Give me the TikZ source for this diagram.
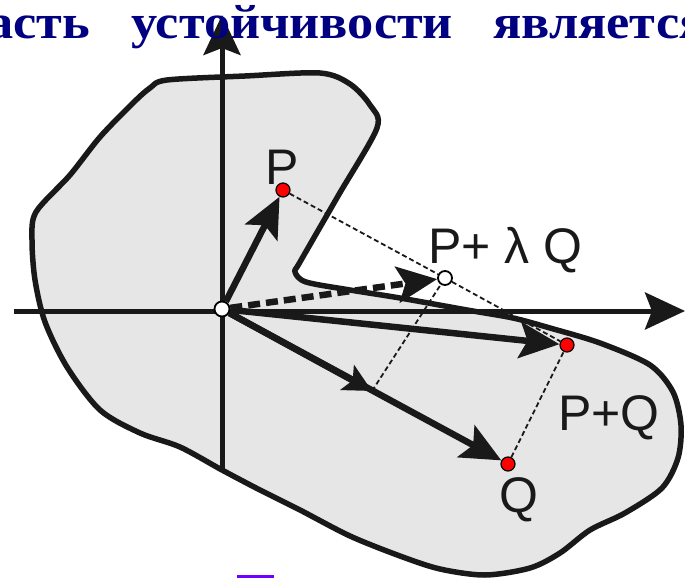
\documentclass[tikz,border=0pt]{standalone}
\usepackage{fontspec}
\usepackage{graphicx}
\setmainfont{Liberation Serif}
\newfontfamily\labelfont{Liberation Sans}
\usetikzlibrary{arrows.meta}
\definecolor{shapegray}{RGB}{230,230,230}
\definecolor{titleblue}{RGB}{0,0,128}
\definecolor{barviolet}{RGB}{110,0,255}
\definecolor{dotred}{RGB}{255,0,0}
\newcommand{\wideword}[1]{\scalebox{1.09}[1]{#1}}
\begin{document}
\begin{tikzpicture}[x=1pt,y=-1pt,
  region/.style={fill=shapegray, draw=black!90, line width=5.5pt, line join=round},
  axis/.style={line width=5pt, draw=black!90, -{Stealth[length=40pt,width=37pt,inset=7pt]}},
  vec/.style={line width=6.5pt, draw=black!90, -{Stealth[length=40pt,width=36pt,inset=8pt]}},
  dvec/.style={vec, dash pattern=on 12pt off 6pt},
  midtip/.style={line width=6.5pt, draw=black!90, -{Stealth[length=28pt,width=28pt,inset=6pt]}},
  helper/.style={line width=1.8pt, draw=black!90, dash pattern=on 5pt off 3pt},
  reddot/.style={circle, fill=dotred, draw=black, line width=1.2pt, inner sep=0pt, minimum size=14pt},
  whitedot/.style={circle, fill=white, draw=black, line width=1.8pt, inner sep=0pt, minimum size=15pt},
  lbl/.style={inner sep=0pt, font=\labelfont\fontsize{50}{50}\selectfont, text=black!90},
  titleword/.style={inner sep=0pt, text=titleblue, font=\bfseries\fontsize{48}{48}\selectfont}
]
\useasboundingbox (0,0) rectangle (685,578);
% region
\draw[region] plot[smooth cycle, tension=0.5] coordinates {
  (167,80) (245,76) (320,73) (350,84) (370,105) (377,128)
  (338,196) (300,262) (295,272) (306,282) (350,290) (400,298)
  (467,310) (513,318) (550,328) (600,343) (650,365) (673,392)
  (681,425) (678,458) (662,488) (625,513) (590,530) (560,553)
  (530,568) (485,575) (440,569) (400,556) (350,536) (300,510)
  (260,490) (222,470) (180,447) (140,433) (100,410) (67,367)
  (45,322) (35,280) (32,240) (36,212) (70,175) (100,137) (133,103) (150,88)};
% axes
\coordinate (xl) at (14,311);
\coordinate (xr) at (685,311);
\coordinate (yb) at (222,472);
\coordinate (yt) at (222,15);
\draw[axis] (xl) -- (xr);
\draw[axis] (yb) -- (yt);
% points
\node[whitedot] (O) at (222,309) {};
\node[reddot] (P) at (283,190) {};
\node[whitedot, minimum size=14pt] (PL) at (445,278) {};
\node[reddot] (PQ) at (567,345) {};
\node[reddot] (Q) at (508,464) {};
\coordinate (LQ) at (372,391);
% helper dashed lines
\draw[helper] (P) -- (PL);
\draw[helper] (PL) -- (PQ);
\draw[helper] (Q) -- (PQ);
\draw[helper] (LQ) -- (PL);
% vectors
\draw[vec] (O) -- (P);
\draw[dvec] (O) -- (PL);
\draw[vec] (O) -- (PQ);
\draw[vec] (O) -- (Q);
\draw[midtip] (O) -- (LQ);
% labels
\node[lbl, anchor=base west] (lP) at (265,184) {P};
\node[lbl, anchor=base west] (lPL) at (428,263) {P+ λ Q};
\node[lbl, anchor=base west] (lPQ) at (558,430) {P+Q};
\node[lbl, anchor=base west] (lQ) at (499,512) {Q};
% title words
\node[titleword, anchor=base east] (w1) at (90,38) {\wideword{асть}};
\node[titleword, anchor=base west] (w2) at (131,38) {\wideword{устойчивости}};
\node[titleword, anchor=base west] (w3) at (493,38) {\wideword{является}};
% violet bar
\fill[barviolet] (237,575) rectangle (274,578);
\end{tikzpicture}
\end{document}
